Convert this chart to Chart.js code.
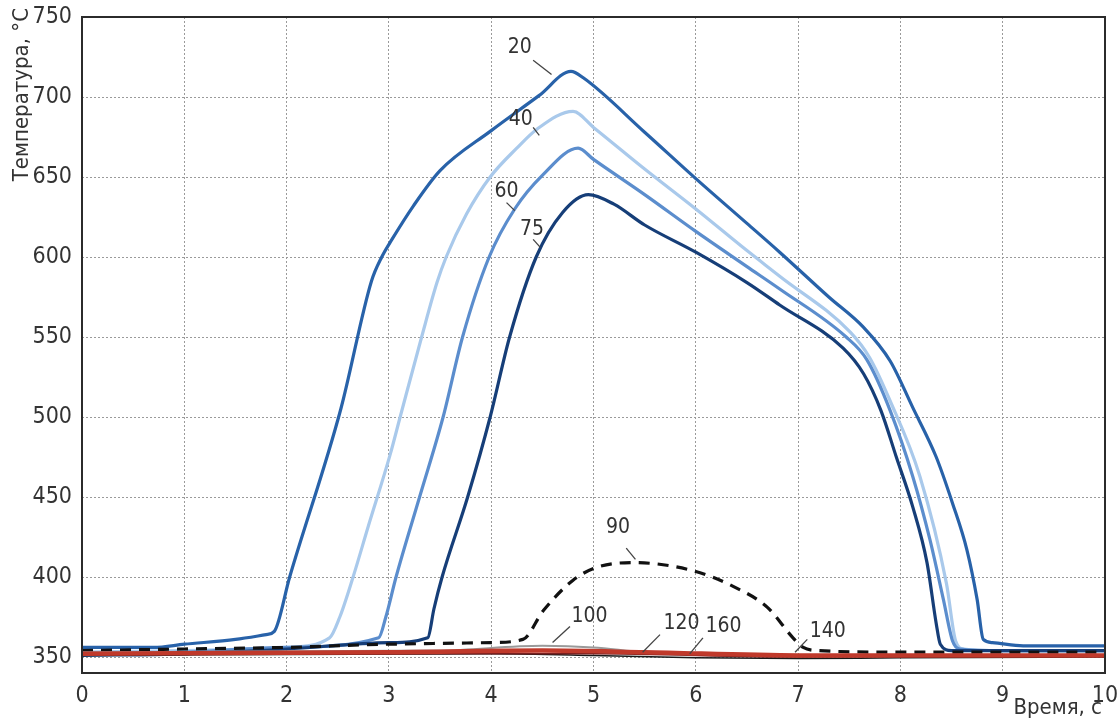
<!DOCTYPE html>
<html>
<head>
<meta charset="utf-8">
<script src="https://cdn.jsdelivr.net/npm/chart.js@4"></script>
<style>
  html, body { margin: 0; padding: 0; background: #fff; }
  #chart { display: block; }
</style>
</head>
<body>
<canvas id="chart" width="1117" height="724"></canvas>
<script>
// тики осей
const xTicks = [0, 1, 2, 3, 4, 5, 6, 7, 8, 9, 10];
const yTicks = [350, 400, 450, 500, 550, 600, 650, 700, 750];

// кривые: время, с / температура, °С
const t20 = [0, 0.7, 1, 1.5, 1.8, 1.88, 2.03, 2.53, 2.83, 2.93, 3.03, 3.24, 3.5, 4, 4.47, 4.78, 4.9, 5.5, 6, 6.5, 6.82, 7.3, 7.64, 7.9, 8.12, 8.35, 8.51, 8.65, 8.75, 8.81, 8.9, 9.2, 10];
const T20 = [356, 356, 358, 361, 364, 366, 400, 505, 585, 600, 611, 632, 654, 679, 701, 716, 712, 678, 649, 621, 603, 575, 556, 535, 506, 475, 446, 417, 386, 361, 359, 357, 357];

const t40 = [0, 1, 2, 2.42, 2.52, 2.65, 2.8, 3.01, 3.11, 3.32, 3.47, 3.56, 3.76, 3.99, 4.25, 4.45, 4.8, 5, 5.5, 6, 6.5, 6.82, 7.51, 7.7, 7.9, 8.19, 8.45, 8.54, 8.62, 9, 10];
const T40 = [353, 354, 356, 362, 375, 400, 432, 476, 500, 550, 584, 600, 627, 650, 668, 680, 691, 681, 655, 630, 604, 588, 553, 537, 510, 463, 396, 360, 355, 354, 354];

const t60 = [0, 1, 2, 2.9, 2.97, 3.07, 3.3, 3.53, 3.72, 3.98, 4.23, 4.5, 4.85, 5, 5.5, 6, 6.5, 6.82, 7.47, 7.67, 7.9, 8.12, 8.29, 8.42, 8.51, 8.58, 9, 10];
const T60 = [352, 353, 356, 362, 375, 400, 450, 500, 550, 600, 630, 651, 668, 661, 639, 616, 594, 580, 550, 536, 504, 463, 423, 386, 360, 355, 354, 354];

const t75 = [0, 1, 2, 3, 3.38, 3.44, 3.52, 3.77, 3.99, 4.18, 4.44, 4.7, 4.95, 5.2, 5.5, 6, 6.5, 6.82, 7.44, 7.64, 7.81, 7.96, 8.12, 8.26, 8.35, 8.39, 8.5, 9, 10];
const T75 = [351, 352, 355, 359, 362, 380, 400, 450, 500, 550, 600, 628, 639, 633, 620, 603, 584, 570, 543, 527, 504, 475, 444, 409, 371, 358, 354, 354, 354];

const t90 = [0, 1, 2, 3, 4, 4.31, 4.51, 4.8, 5.03, 5.39, 5.97, 6.37, 6.7, 6.95, 7.05, 7.2, 8, 9, 10];
const T90 = [354, 355, 356, 358, 359, 361, 379, 398, 406, 409, 404, 394, 381, 362, 356, 354, 353, 353, 353];

const t100 = [0, 3.5, 4.5, 5, 5.5, 7, 10];
const T100 = [353, 354, 357, 356, 353, 351, 351];

const t120 = [0, 4, 5, 6, 7, 8, 10];
const T120 = [351, 352, 351, 349.5, 349, 349.5, 350];

const t140 = [0, 5, 7, 10];
const T140 = [352, 352, 350, 351];

const t160 = [0, 3, 4.5, 5.5, 7, 10];
const T160 = [352, 353, 354, 353, 351, 351];

function pts(t, T) {
  return t.map((x, i) => ({ x: x, y: T[i] }));
}

const FONT = '"Liberation Sans Narrow", "DejaVu Sans Condensed", "Liberation Sans", sans-serif';

function line(label, t, T, color, width, dash) {
  return {
    label: label,
    data: pts(t, T),
    borderColor: color,
    borderWidth: width,
    borderDash: dash || [],
    pointRadius: 0,
    fill: false,
    cubicInterpolationMode: 'monotone'
  };
}

const datasets = [
  line('160', t160, T160, '#c0392b', 4.5),
  line('140', t140, T140, '#7a1f1f', 1.5),
  line('120', t120, T120, '#1a1a1a', 1.5),
  line('100', t100, T100, '#9a9a9a', 2),
  line('90', t90, T90, '#111111', 3.2, [11, 8]),
  line('75', t75, T75, '#163e78', 3.2),
  line('60', t60, T60, '#5b8dcd', 3.2),
  line('40', t40, T40, '#a9c9eb', 3.2),
  line('20', t20, T20, '#2862a9', 3.2)
];

// подписи кривых с выносками (в координатах данных)
const callouts = [
  { text: '20', x: 4.28, y: 731, from: [4.41, 723], to: [4.59, 714] },
  { text: '40', x: 4.29, y: 686, from: [4.41, 681], to: [4.47, 676] },
  { text: '60', x: 4.15, y: 641, from: [4.15, 634], to: [4.23, 629] },
  { text: '75', x: 4.40, y: 617, from: [4.41, 611], to: [4.48, 606] },
  { text: '90', x: 5.24, y: 431, from: [5.32, 418], to: [5.41, 411] },
  { text: '100', x: 4.96, y: 375, from: [4.77, 369], to: [4.60, 359] },
  { text: '120', x: 5.86, y: 371, from: [5.65, 364], to: [5.48, 353] },
  { text: '160', x: 6.27, y: 369, from: [6.07, 362], to: [5.94, 352] },
  { text: '140', x: 7.29, y: 366, from: [7.09, 361], to: [6.97, 353] }
];

const decor = {
  id: 'decor',
  afterDatasetsDraw(chart) {
    const ctx = chart.ctx;
    const xs = chart.scales.x, ys = chart.scales.y;
    const a = chart.chartArea;
    ctx.save();
    // рамка
    ctx.strokeStyle = '#2b2b2b';
    ctx.lineWidth = 2;
    ctx.strokeRect(a.left, a.top, a.right - a.left, a.bottom - a.top);
    // выноски
    ctx.strokeStyle = '#444';
    ctx.lineWidth = 1.3;
    ctx.fillStyle = '#333';
    ctx.font = '21px ' + FONT;
    ctx.textAlign = 'center';
    ctx.textBaseline = 'middle';
    callouts.forEach(c => {
      ctx.beginPath();
      ctx.moveTo(xs.getPixelForValue(c.from[0]), ys.getPixelForValue(c.from[1]));
      ctx.lineTo(xs.getPixelForValue(c.to[0]), ys.getPixelForValue(c.to[1]));
      ctx.stroke();
      ctx.fillText(c.text, xs.getPixelForValue(c.x), ys.getPixelForValue(c.y));
    });
    ctx.restore();
  },
  afterDraw(chart) {
    const ctx = chart.ctx;
    ctx.save();
    ctx.fillStyle = '#333';
    ctx.font = '22px ' + FONT;
    // подпись оси Y
    ctx.translate(22, 8);
    ctx.rotate(-Math.PI / 2);
    ctx.textAlign = 'right';
    ctx.textBaseline = 'middle';
    ctx.fillText('Температура, °С', 0, 0);
    ctx.restore();
    ctx.save();
    ctx.fillStyle = '#333';
    ctx.font = '22px ' + FONT;
    ctx.textAlign = 'right';
    ctx.textBaseline = 'middle';
    ctx.fillText('Время, с', 1102, 708);
    ctx.restore();
  }
};

new Chart(document.getElementById('chart').getContext('2d'), {
  type: 'line',
  data: { datasets: datasets },
  plugins: [decor],
  options: {
    responsive: false,
    animation: false,
    layout: { padding: { top: 17, right: 12, left: 0, bottom: 0 } },
    plugins: { legend: { display: false }, tooltip: { enabled: false } },
    scales: {
      x: {
        type: 'linear',
        min: 0, max: 10,
        afterBuildTicks: s => { s.ticks = xTicks.map(v => ({ value: v })); },
        afterFit: s => { s.height = 51; s.paddingLeft = 0; s.paddingRight = 0; },
        grid: { color: '#9a9a9a', lineWidth: 1, drawTicks: false },
        border: { display: false, dash: [2, 2] },
        ticks: { color: '#333', padding: 9, maxRotation: 0, font: { size: 23, family: FONT } }
      },
      y: {
        type: 'linear',
        min: 340, max: 750,
        afterBuildTicks: s => { s.ticks = yTicks.map(v => ({ value: v })); },
        afterFit: s => { s.width = 82; s.paddingTop = 0; s.paddingBottom = 0; },
        grid: { color: '#9a9a9a', lineWidth: 1, drawTicks: false },
        border: { display: false, dash: [2, 2] },
        ticks: { color: '#333', padding: 10, font: { size: 23, family: FONT } }
      }
    }
  }
});
</script>
</body>
</html>
